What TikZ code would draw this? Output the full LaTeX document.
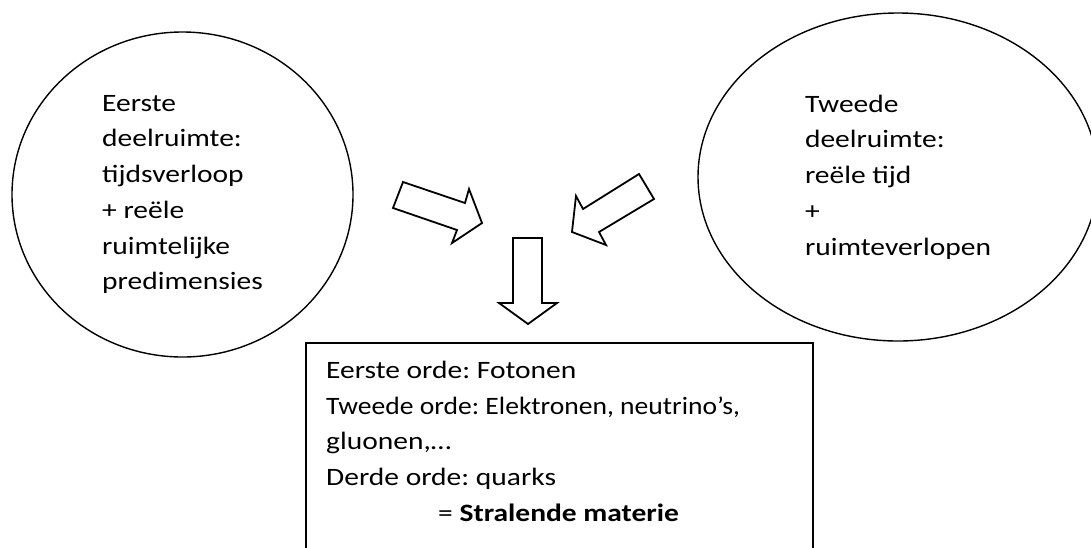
\documentclass[tikz,border=0pt]{standalone}
\usepackage{fontspec}
\setmainfont{Carlito}[FakeStretch=1.18]
\usetikzlibrary{shapes.geometric}
\begin{document}
\frenchspacing
\begin{tikzpicture}[x=1pt,y=-1pt,
  bubble/.style={ellipse, draw, line width=1.4pt, inner sep=0pt, align=left,
    font=\fontsize{25}{35.7}\selectfont},
  blockarrow/.style={draw, line width=1.8pt, line join=miter},
  resultbox/.style={draw, line width=1.6pt, rectangle, anchor=north west,
    minimum width=507pt, minimum height=230pt, inner sep=0pt},
  boxtext/.style={anchor=north west, align=left, inner sep=0pt,
    font=\fontsize{25}{35.7}\selectfont}]
\useasboundingbox (0,0) rectangle (1091,547);
\clip (0,0) rectangle (1091,547);
\node[bubble, minimum width=341pt, minimum height=325pt] (first) at (182.5,194.5)
  {Eerste\\deelruimte:\\tijdsverloop\\+ reële\\ruimtelijke\\predimensies};
\node[bubble, minimum width=400pt, minimum height=328pt] (second) at (898,177)
  {Tweede\\deelruimte:\\reële tijd\\+\\ruimteverlopen};
% block arrows
\draw[blockarrow] (403,182) -- (465,203) -- (469,189) -- (482,223) -- (452,243) -- (457,230) -- (393,208) -- cycle;
\draw[blockarrow] (572,232) -- (576,196) -- (583,209) -- (639,174) -- (654,199) -- (599,232) -- (606,245) -- cycle;
\draw[blockarrow] (513,238) -- (542,238) -- (542,303) -- (557,303) -- (528,324) -- (499,303) -- (513,303) -- cycle;
% result box
\node[resultbox] (result) at (305,342) {};
\node[boxtext] (resulttext) at (326,361)
  {Eerste orde: Fotonen\\\scalebox{0.935}[1]{Tweede orde: Elektronen, neutrino’s,}\\gluonen,…\\Derde orde: quarks\\\hspace*{112pt}= \textbf{Stralende materie}};
\end{tikzpicture}
\end{document}
